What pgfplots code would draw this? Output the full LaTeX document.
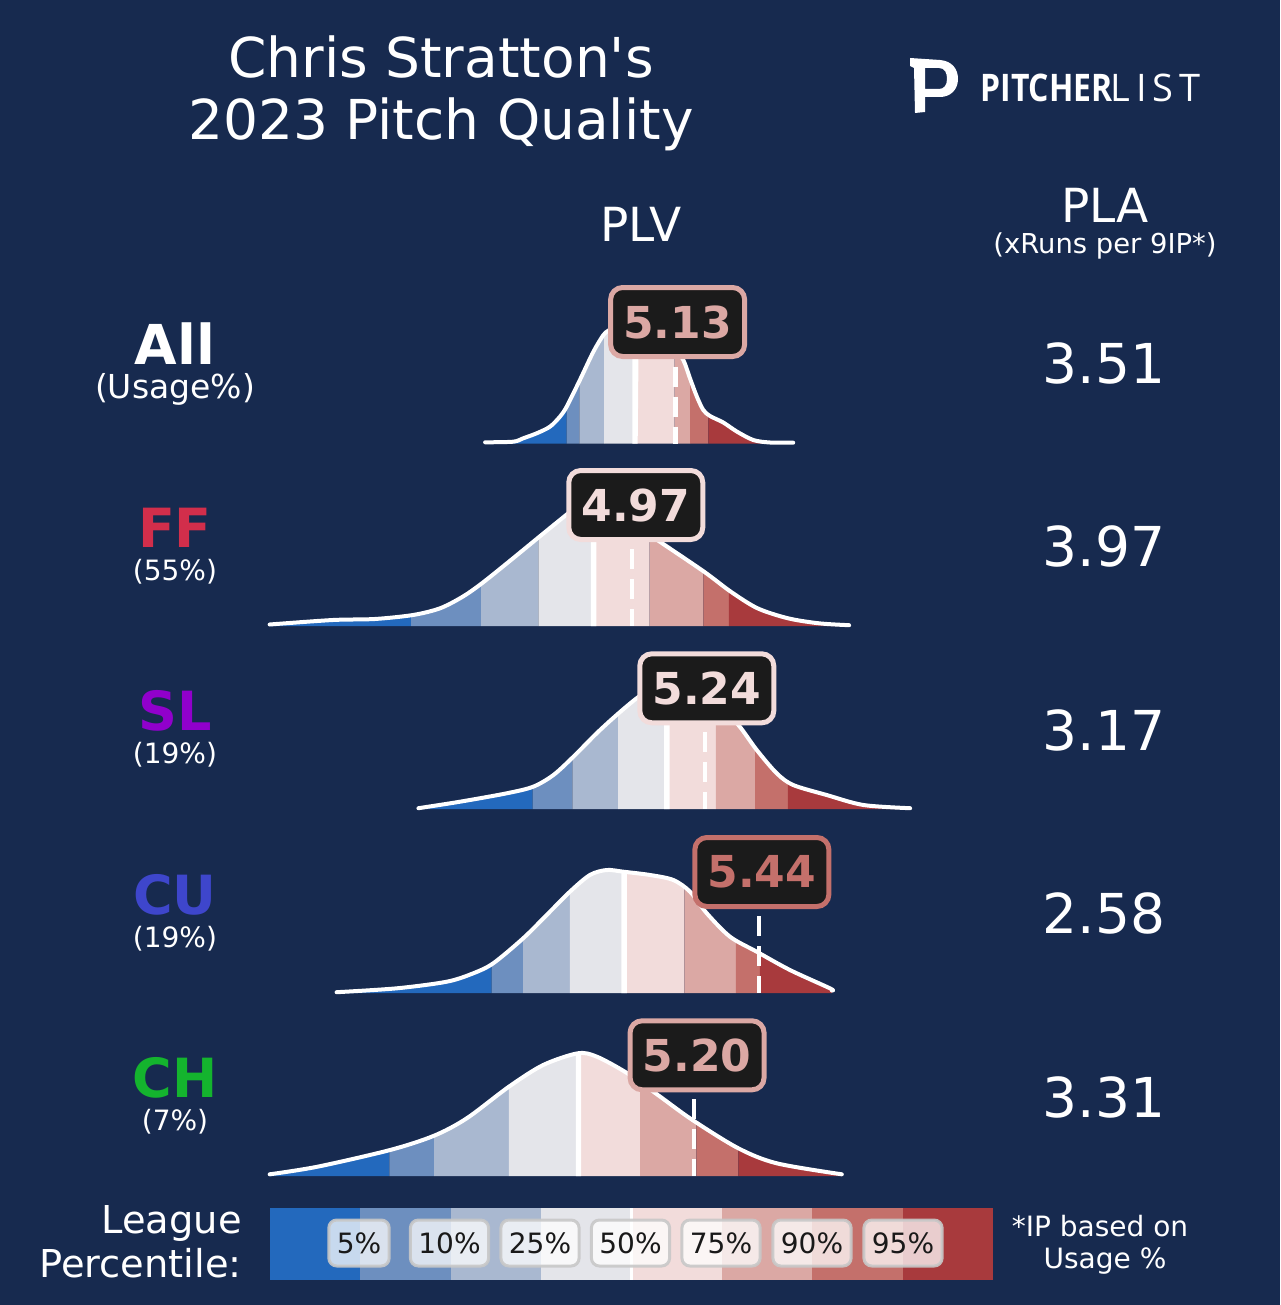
\documentclass[border=0pt]{standalone}
\usepackage{pgfplots}
\pgfplotsset{compat=1.18}
\usepackage{pgfplotstable}
\usepgfplotslibrary{fillbetween}
\usepackage{graphicx}
\usepackage{fontspec}
\setmainfont{DejaVu Sans}
\newfontfamily\logofont{Open Sans}
\newfontfamily\logolight{Open Sans}[LetterSpace=16]
\definecolor{bg}{RGB}{23,42,79}
\definecolor{p1}{RGB}{35,105,189}
\definecolor{p2}{RGB}{109,143,191}
\definecolor{p3}{RGB}{169,184,208}
\definecolor{p4}{RGB}{228,229,234}
\definecolor{p5}{RGB}{242,220,219}
\definecolor{p6}{RGB}{219,168,164}
\definecolor{p7}{RGB}{196,112,107}
\definecolor{p8}{RGB}{168,58,61}
\definecolor{boxbg}{RGB}{27,27,27}
\definecolor{cFF}{RGB}{210,46,75}
\definecolor{cSL}{RGB}{145,0,204}
\definecolor{cCU}{RGB}{62,70,204}
\definecolor{cCH}{RGB}{20,180,46}
\definecolor{lgray}{RGB}{200,200,200}
\definecolor{ltext}{RGB}{25,25,25}
\pagecolor{bg}
\newcommand\fs[1]{\fontsize{#1}{#1}\selectfont}

\pgfplotstableread{
x y
4.426 1.2
4.530 1.8
4.567 5.2
4.617 10.2
4.666 16.8
4.703 26.8
4.728 36.8
4.777 63.5
4.827 91.8
4.864 108.5
4.882 112.8
4.910 118
4.950 121.5
5.000 121
5.050 116
5.100 104
5.130 94
5.160 83.5
5.185 65
5.210 47
5.234 33.5
5.259 27.5
5.308 21
5.358 12
5.419 3.5
5.481 1
5.567 0.8
}\tA

\pgfplotstableread{
x y
3.628 1.5
3.862 6
4.017 7
4.159 11
4.259 17.7
4.343 29.3
4.414 42.7
4.514 64.3
4.627 89.3
4.726 111
4.777 121.5
4.833 124.5
4.889 118.5
4.963 104.5
5.018 94.5
5.073 84.3
5.237 54.3
5.336 34.3
5.435 17.7
5.548 7.7
5.662 2.7
5.774 0.8
}\tF

\pgfplotstableread{
x y
4.179 0.8
4.333 7.3
4.506 15.7
4.604 22.3
4.679 34
4.753 52.3
4.839 75.7
4.913 94
4.987 110.7
5.037 119
5.092 123.5
5.148 123
5.222 116
5.296 101
5.364 84
5.432 59
5.506 35.7
5.567 24
5.691 14
5.827 4
6.000 0.8
}\tS

\pgfplotstableread{
x y
3.876 0.8
4.099 4.7
4.284 11.3
4.382 19.7
4.456 29.7
4.567 54.7
4.654 78
4.740 101.3
4.814 118
4.876 123
4.938 121.3
5.037 118
5.123 113
5.185 101.3
5.247 79.7
5.333 56.3
5.432 41.3
5.555 23
5.703 4.7
5.710 2.5
}\tC

\pgfplotstableread{
x y
3.628 1.7
3.805 9.3
4.074 26
4.237 40.3
4.358 57.7
4.514 89.3
4.641 111
4.769 122.7
4.840 119.3
4.953 102.7
5.066 81
5.194 56
5.364 27.7
5.506 12.7
5.747 1.7
}\tH

\pgfplotsset{panel/.style={scale only axis, width=361.5pt, height=65pt,
  xmin=3.6293, xmax=6.3070, ymin=0, ymax=130, hide axis, clip=false,
  anchor=south west}}

\newcommand\bands[8]{%
 \addplot[fill=p1, draw=none] fill between[of=#1c and #1b, soft clip={domain=3:#2}];
 \addplot[fill=p2, draw=none] fill between[of=#1c and #1b, soft clip={domain=#2:#3}];
 \addplot[fill=p3, draw=none] fill between[of=#1c and #1b, soft clip={domain=#3:#4}];
 \addplot[fill=p4, draw=none] fill between[of=#1c and #1b, soft clip={domain=#4:#5}];
 \addplot[fill=p5, draw=none] fill between[of=#1c and #1b, soft clip={domain=#5:#6}];
 \addplot[fill=p6, draw=none] fill between[of=#1c and #1b, soft clip={domain=#6:#7}];
 \addplot[fill=p7, draw=none] fill between[of=#1c and #1b, soft clip={domain=#7:#8}];
 \addplot[fill=p8, draw=none] fill between[of=#1c and #1b, soft clip={domain=#8:7}];
}

\tikzset{
 vbox/.style={rounded corners=6pt, fill=boxbg, line width=2.5pt,
   minimum width=67pt, minimum height=34.5pt, inner sep=0pt, font=\bfseries\fs{22}},
 lbox/.style={rounded corners=4pt, fill=white, fill opacity=0.75, draw=lgray,
   draw opacity=0.9, line width=1.5pt, text opacity=1, text=ltext,
   inner xsep=4pt, inner ysep=0pt, minimum height=23pt, font=\fs{14}},
 vdash/.style={white, line width=2.3pt, dash pattern=on 10pt off 5pt}
}

\begin{document}
\begin{tikzpicture}
\begin{scope}[x=0.5pt,y=-0.5pt]
\path (0,0) rectangle (1280,1305);
% title
\node[anchor=base, white, font=\fs{27.5}] at (441,78) {Chris Stratton\textquotesingle s};
\node[anchor=base, white, font=\fs{27.5}] at (441,140) {2023 Pitch Quality};
% logo
\fill[white, even odd rule]
 (910,58) -- (940,60) .. controls (952,61) and (958,69) .. (958,79)
 .. controls (958,90) and (950,97) .. (940,97) -- (925,97) -- (925,112)
 -- (915,113) -- (914,68) -- (910,66) -- cycle
 (925,68) -- (939,68) .. controls (945,68) and (947,73) .. (947,79)
 .. controls (947,85) and (944,89) .. (939,89) -- (925,89) -- cycle;
\node[anchor=base west, white, inner sep=0pt, font=\logofont\bfseries\fs{19}] at (980,102) {\scalebox{0.84}[1]{PITCHER}};
\node[anchor=base west, white, inner sep=0pt, font=\logolight\fs{19}] at (1110,102) {LIST};
% headers
\node[anchor=base, white, font=\fs{23.5}] at (641,242) {PLV};
\node[anchor=base, white, font=\fs{23.5}] at (1105,222) {PLA};
\node[anchor=base, white, font=\fs{13.7}] at (1105,253) {(xRuns per 9IP*)};
% PLA values
\node[anchor=base, white, font=\fs{27.5}] at (1104,383) {3.51};
\node[anchor=base, white, font=\fs{27.5}] at (1104,566.5) {3.97};
\node[anchor=base, white, font=\fs{27.5}] at (1104,750) {3.17};
\node[anchor=base, white, font=\fs{27.5}] at (1104,933.5) {2.58};
\node[anchor=base, white, font=\fs{27.5}] at (1104,1117) {3.31};
% row labels
\node[anchor=base, white, font=\bfseries\fs{27.5}] at (175,364.5) {All};
\node[anchor=base, white, font=\fs{16.5}] at (175,398) {(Usage\%)};
\node[anchor=base, cFF, font=\bfseries\fs{27}] at (175,547) {FF};
\node[anchor=base, white, font=\fs{14}] at (175,580) {(55\%)};
\node[anchor=base, cSL, font=\bfseries\fs{27}] at (175,730.5) {SL};
\node[anchor=base, white, font=\fs{14}] at (175,763.5) {(19\%)};
\node[anchor=base, cCU, font=\bfseries\fs{27}] at (175,914) {CU};
\node[anchor=base, white, font=\fs{14}] at (175,947) {(19\%)};
\node[anchor=base, cCH, font=\bfseries\fs{27}] at (175,1097.5) {CH};
\node[anchor=base, white, font=\fs{14}] at (175,1130.5) {(7\%)};
% legend bar
\fill[p1] (270,1208) rectangle (360.4,1280);
\fill[p2] (360.4,1208) rectangle (450.8,1280);
\fill[p3] (450.8,1208) rectangle (541.1,1280);
\fill[p4] (541.1,1208) rectangle (631.5,1280);
\fill[p5] (631.5,1208) rectangle (721.9,1280);
\fill[p6] (721.9,1208) rectangle (812.3,1280);
\fill[p7] (812.3,1208) rectangle (902.6,1280);
\fill[p8] (902.6,1208) rectangle (993,1280);
\draw[white, line width=1.5pt] (631.5,1208) -- (631.5,1280);
\node[lbox] at (359,1243) {5\%};
\node[lbox] at (449.5,1243) {10\%};
\node[lbox] at (540,1243) {25\%};
\node[lbox] at (630.5,1243) {50\%};
\node[lbox] at (721,1243) {75\%};
\node[lbox] at (812,1243) {90\%};
\node[lbox] at (903,1243) {95\%};
\node[anchor=base east, white, font=\fs{19.2}, inner sep=0pt] at (242,1233) {League};
\node[anchor=base east, white, font=\fs{19.2}, inner sep=0pt] at (242,1277) {Percentile:};
\node[anchor=base, white, font=\fs{14}] at (1100,1236) {*IP based on};
\node[anchor=base, white, font=\fs{14}] at (1105,1268) {Usage \%};
\end{scope}

% ---- All
\begin{axis}[panel, at={(135pt,-221.75pt)}]
\addplot[draw=none, smooth, name path=Ac] table {\tA};
\addplot[draw=none, name path=Ab] coordinates {(4.426,0) (5.567,0)};
\bands{A}{4.728}{4.775}{4.867}{4.981}{5.128}{5.185}{5.253}
\addplot[fill=white, draw=none] fill between[of=Ac and Ab, soft clip={domain=4.971:4.991}];
\addplot[white, line width=2pt, smooth, line join=round, line cap=round] table {\tA};
\addplot[vdash] coordinates {(5.13,77) (5.13,0)};
\node[vbox, draw=p6, text=p6] at (axis cs:5.139,121.5) {5.13};
\end{axis}

% ---- FF
\begin{axis}[panel, at={(135pt,-313pt)}]
\addplot[draw=none, smooth, name path=Fc] table {\tF};
\addplot[draw=none, name path=Fb] coordinates {(3.628,0) (5.774,0)};
\bands{F}{4.152}{4.411}{4.623}{4.828}{5.035}{5.234}{5.329}
\addplot[fill=white, draw=none] fill between[of=Fc and Fb, soft clip={domain=4.818:4.838}];
\addplot[white, line width=2pt, smooth, line join=round, line cap=round] table {\tF};
\addplot[vdash] coordinates {(4.97,77) (4.97,0)};
\node[vbox, draw=p5, text=p5] at (axis cs:4.984,121) {4.97};
\end{axis}

% ---- SL
\begin{axis}[panel, at={(135pt,-404.5pt)}]
\addplot[draw=none, smooth, name path=Sc] table {\tS};
\addplot[draw=none, name path=Sb] coordinates {(4.179,0) (6.000,0)};
\bands{S}{4.602}{4.749}{4.919}{5.099}{5.281}{5.426}{5.547}
\addplot[fill=white, draw=none] fill between[of=Sc and Sb, soft clip={domain=5.089:5.109}];
\addplot[white, line width=2pt, smooth, line join=round, line cap=round] table {\tS};
\addplot[vdash] coordinates {(5.24,77) (5.24,0)};
\node[vbox, draw=p5, text=p5] at (axis cs:5.247,120.7) {5.24};
\end{axis}

% ---- CU
\begin{axis}[panel, at={(135pt,-496.5pt)}]
\addplot[draw=none, smooth, name path=Cc] table {\tC};
\addplot[draw=none, name path=Cb] coordinates {(3.876,0) (5.710,0)};
\bands{C}{4.450}{4.567}{4.740}{4.941}{5.164}{5.355}{5.444}
\addplot[fill=white, draw=none] fill between[of=Cc and Cb, soft clip={domain=4.931:4.951}];
\addplot[white, line width=2pt, smooth, line join=round, line cap=round] table {\tC};
\addplot[vdash] coordinates {(5.44,77) (5.44,0)};
\node[vbox, draw=p7, text=p7] at (axis cs:5.451,121) {5.44};
\end{axis}

% ---- CH
\begin{axis}[panel, at={(135pt,-588pt)}]
\addplot[draw=none, smooth, name path=Hc] table {\tH};
\addplot[draw=none, name path=Hb] coordinates {(3.628,0) (5.747,0)};
\bands{H}{4.071}{4.237}{4.514}{4.772}{5.000}{5.208}{5.364}
\addplot[fill=white, draw=none] fill between[of=Hc and Hb, soft clip={domain=4.762:4.782}];
\addplot[white, line width=2pt, smooth, line join=round, line cap=round] table {\tH};
\addplot[vdash] coordinates {(5.20,77) (5.20,0)};
\node[vbox, draw=p6, text=p6] at (axis cs:5.211,120.7) {5.20};
\end{axis}

\pgfresetboundingbox
\path[use as bounding box] (0,0) rectangle (640pt,-652.5pt);
\end{tikzpicture}
\end{document}
